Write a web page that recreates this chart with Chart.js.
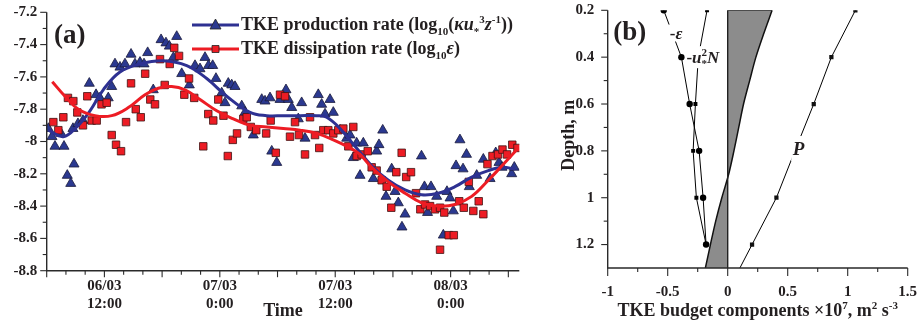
<!DOCTYPE html>
<html>
<head>
<meta charset="utf-8">
<script src="https://cdn.jsdelivr.net/npm/chart.js@4.4.1/dist/chart.umd.min.js"></script>
<style>
  body { margin: 0; background: #fff; }
  #wrap { position: relative; width: 919px; height: 322px; overflow: hidden; }
  #chart-a { position: absolute; left: 0; top: 0; }
  #chart-b { position: absolute; left: 540px; top: 0; }
</style>
</head>
<body>
<div id="wrap">
  <canvas id="chart-a" width="580" height="322"></canvas>
  <canvas id="chart-b" width="379" height="322"></canvas>
</div>
<script>
// ---- panel (a): time series, time in hours since 06/03 0:00 ----
const prodTime = [6.17, 6.55, 6.86, 7.49, 7.80, 8.14, 8.50, 8.73, 8.84, 9.25, 9.77, 10.43, 11.13, 11.54, 12.40,
  12.76, 13.10, 13.62, 14.14, 14.77, 15.18, 15.70, 16.12, 16.50, 17.08, 17.89, 18.40, 18.75, 19.17, 19.52,
  20.04, 20.83, 21.42, 21.94, 22.46, 22.82, 23.26, 23.60, 24.20, 24.54, 24.88, 25.24, 25.58, 26.28, 26.62,
  27.48, 28.36, 28.70, 29.22, 29.40, 29.92, 30.26, 30.88, 31.12, 31.48, 32.16, 32.51, 32.86, 34.24, 34.59,
  34.94, 35.46, 35.80, 36.50, 37.19, 37.54, 37.88, 38.23, 38.58, 38.92, 39.96, 40.31, 40.55, 40.94, 41.28,
  41.87, 42.22, 42.56, 42.94, 43.26, 44.97, 45.28, 45.60, 45.96, 46.55, 47.24, 47.62, 47.94, 48.28, 48.56,
  48.97, 49.29, 49.65, 49.94, 50.71, 51.40, 52.10, 52.69, 53.03, 53.34, 54.35, 54.62];
const prodRate = [-7.92, -7.97, -8.03, -7.95, -8.03, -8.21, -8.26, -7.92, -8.14, -7.89, -7.87, -7.64, -7.71, -7.73, -7.73,
  -7.66, -7.52, -7.54, -7.52, -7.46, -7.52, -7.51, -7.52, -7.45, -7.68, -7.37, -7.39, -7.41, -7.48, -7.35,
  -7.58, -7.65, -7.53, -7.55, -7.48, -7.53, -7.53, -7.61, -7.70, -7.76, -7.64, -7.65, -7.66, -7.78, -7.82,
  -7.96, -7.74, -7.75, -7.73, -8.06, -8.13, -7.74, -7.68, -7.74, -7.79, -7.86, -7.76, -7.98, -7.71, -7.77,
  -7.83, -7.74, -7.82, -7.93, -7.98, -7.96, -8.10, -8.01, -8.21, -8.01, -8.23, -8.06, -8.02, -7.93, -8.34,
  -8.17, -8.31, -8.38, -8.53, -8.45, -8.09, -8.28, -8.44, -8.28, -8.34, -8.58, -8.31, -8.35, -8.43, -8.15,
  -7.99, -8.17, -8.08, -8.28, -8.21, -8.11, -8.23, -8.07, -8.13, -8.16, -8.20, -8.16];

const dissTime = [6.69, 7.21, 7.73, 8.21, 8.77, 9.18, 9.77, 10.22, 10.68, 11.20, 11.70, 12.24, 12.76, 13.21, 13.73,
  14.25, 14.77, 15.26, 15.78, 16.24, 16.77, 17.26, 17.78, 18.27, 18.79, 19.26, 19.76, 20.31, 20.80, 21.34,
  22.28, 22.80, 23.32, 23.84, 24.38, 24.83, 25.35, 25.79, 26.44, 26.80, 27.22, 27.79, 28.82, 29.29, 29.82,
  30.26, 30.78, 31.30, 31.82, 32.23, 32.86, 33.38, 33.90, 34.34, 34.76, 35.28, 35.80, 36.32, 36.84, 37.36,
  37.88, 38.23, 38.75, 39.38, 39.79, 40.31, 40.83, 41.35, 41.83, 42.35, 42.91, 43.38, 43.88, 44.40, 44.85,
  45.34, 45.86, 46.38, 46.90, 46.90, 47.34, 47.80, 48.33, 48.89, 49.37, 49.89, 50.36, 50.92, 51.40, 51.83,
  52.35, 52.93, 53.39, 53.86, 54.41, 54.95];
const dissRate = [-7.88, -7.93, -7.85, -7.73, -7.75, -7.82, -7.90, -7.72, -7.87, -7.87, -7.77, -7.76, -7.96, -8.02, -8.06,
  -7.88, -7.64, -7.80, -7.85, -7.58, -7.74, -7.77, -7.49, -7.65, -7.52, -7.42, -7.47, -7.71, -7.61, -7.73,
  -8.03, -7.83, -7.87, -7.74, -7.84, -8.09, -7.99, -7.95, -7.86, -7.85, -7.91, -7.93, -7.95, -7.87, -8.07,
  -7.71, -7.72, -7.97, -7.88, -7.96, -8.08, -7.85, -7.96, -8.04, -7.93, -7.93, -7.95, -7.93, -7.92, -8.03,
  -7.91, -8.09, -8.08, -8.06, -8.16, -8.18, -8.24, -8.28, -8.41, -8.19, -8.07, -8.22, -8.19, -8.32, -8.42,
  -8.39, -8.40, -8.42, -8.41, -8.67, -8.44, -8.58, -8.58, -8.37, -8.41, -8.25, -8.43, -8.37, -8.45, -8.14,
  -8.09, -8.08, -8.05, -8.08, -8.02, -8.04];

// smoothed trends
const prodFitTime = [6.17, 7.73, 9.12, 10.50, 11.88, 13.62, 15.70, 18.12, 20.56, 22.64, 24.72, 27.14, 28.88, 30.60,
  32.34, 34.07, 35.11, 36.50, 38.06, 39.79, 41.52, 43.26, 44.99, 46.72, 48.45, 50.19, 51.92, 53.31, 54.69];
const prodFit = [-7.93, -7.97, -7.91, -7.81, -7.68, -7.57, -7.52, -7.50, -7.53, -7.61, -7.72, -7.82, -7.84, -7.84,
  -7.84, -7.84, -7.85, -7.92, -8.03, -8.15, -8.24, -8.30, -8.33, -8.32, -8.28, -8.22, -8.18, -8.16, -8.17];
const dissFitTime = [6.58, 7.90, 9.29, 11.02, 12.76, 14.49, 16.22, 17.60, 18.99, 20.38, 21.94, 23.68, 25.40, 27.14,
  28.88, 30.60, 32.34, 34.07, 35.80, 37.54, 38.58, 39.79, 41.52, 43.26, 44.99, 46.72, 48.45, 50.19, 51.92, 53.65, 55.04];
const dissFit = [-7.63, -7.72, -7.80, -7.84, -7.84, -7.79, -7.71, -7.67, -7.66, -7.68, -7.74, -7.81, -7.86, -7.90,
  -7.91, -7.92, -7.93, -7.95, -7.99, -8.04, -8.08, -8.16, -8.25, -8.32, -8.38, -8.40, -8.39, -8.34, -8.24, -8.13, -8.04];

const timeTicks = [12, 24, 36, 48];
const timeLabels = [['06/03', '12:00'], ['07/03', '0:00'], ['07/03', '12:00'], ['08/03', '0:00']];
const rateTicks = [-7.2, -7.4, -7.6, -7.8, -8, -8.2, -8.4, -8.6, -8.8];

// ---- panel (b): TKE budget profile ----
const depth = [0.2, 0.4, 0.6, 0.8, 1.0, 1.2];
const negEps = [-0.533, -0.386, -0.317, -0.238, -0.205, -0.18];
const negBuoy = [-0.172, -0.245, -0.269, -0.288, -0.261, -0.18];
const prodDepth = [0.2, 0.4, 0.6, 0.8, 1.0, 1.2, 1.4];
const prodP = [1.064, 0.864, 0.717, 0.56, 0.406, 0.203, 0.0];
const residDepth = [0.2, 0.3, 0.4, 0.5, 0.6, 0.7, 0.8, 0.9, 1.0, 1.1, 1.2, 1.3];
const resid = [0.37, 0.30, 0.235, 0.183, 0.132, 0.092, 0.052, 0.008, -0.049, -0.10, -0.144, -0.186];

const budgetXTicks = [-1, -0.5, 0, 0.5, 1, 1.5];
const depthTicks = [0.2, 0.4, 0.6, 0.8, 1.0, 1.2];

const SERIF = '"Liberation Serif", "Times New Roman", serif';
const INK = '#231f20';
const BLUE = '#2e3192';
const RED = '#ed1c24';

const fmt = v => String(Math.round(v * 10) / 10);
const pts = (xs, ys) => xs.map((x, i) => ({ x: x, y: ys[i] }));

// text with sub/superscripts, drawn piece by piece
function richFont(p, size) {
  const s = (p.sub || p.sup) ? Math.round(size * 0.62) : size;
  return (p.it ? 'italic ' : '') + 'bold ' + s + 'px ' + SERIF;
}
function richWidth(ctx, parts, size) {
  let w = 0;
  parts.forEach(p => {
    ctx.font = richFont(p, size);
    if (!p.keep) w += ctx.measureText(p.t).width;
  });
  return w;
}
function drawRich(ctx, parts, x, y, size, align) {
  let cx = align === 'center' ? x - richWidth(ctx, parts, size) / 2 : x;
  ctx.textAlign = 'left';
  ctx.textBaseline = 'alphabetic';
  parts.forEach(p => {
    ctx.font = richFont(p, size);
    const dy = p.sub ? size * 0.25 : p.sup ? -size * 0.4 : 0;
    ctx.fillText(p.t, cx, y + dy);
    if (!p.keep) cx += ctx.measureText(p.t).width;
  });
}

function line(ctx, x1, y1, x2, y2) {
  ctx.beginPath();
  ctx.moveTo(x1, y1);
  ctx.lineTo(x2, y2);
  ctx.stroke();
}

// left + bottom axis lines with outward major/minor ticks
function drawFrame(chart, xMajor, xMinor, yMajor, yMinor, xLen, yLen) {
  const { ctx, chartArea: a, scales } = chart;
  ctx.save();
  ctx.strokeStyle = '#2a2a2a';
  ctx.lineWidth = 1.4;
  ctx.beginPath();
  ctx.moveTo(a.left, a.top);
  ctx.lineTo(a.left, a.bottom);
  ctx.lineTo(a.right, a.bottom);
  ctx.stroke();
  ctx.lineWidth = 1.1;
  xMajor.forEach(v => { const p = scales.x.getPixelForValue(v); line(ctx, p, a.bottom, p, a.bottom + xLen); });
  xMinor.forEach(v => { const p = scales.x.getPixelForValue(v); line(ctx, p, a.bottom, p, a.bottom + 4); });
  yMajor.forEach(v => { const p = scales.y.getPixelForValue(v); line(ctx, a.left, p, a.left - yLen, p); });
  yMinor.forEach(v => { const p = scales.y.getPixelForValue(v); line(ctx, a.left, p, a.left - 4, p); });
  ctx.restore();
}

function steps(from, to, step) {
  const out = [];
  for (let v = from; v <= to + 1e-9; v += step) out.push(Math.round(v * 1000) / 1000);
  return out;
}

// keep the plot box where the layout padding puts it
function noScalePadding(s) {
  s.paddingTop = 0;
  s.paddingBottom = 0;
  s.paddingLeft = 0;
  s.paddingRight = 0;
}

const tickFont = { family: SERIF, size: 15, weight: 'bold', lineHeight: 1.17 };

// ---------------- panel (a) ----------------
const frameA = {
  id: 'frameA',
  afterDraw(chart) {
    const { ctx } = chart;
    const hrs = steps(6, 54, 2);
    drawFrame(chart,
      hrs.filter(h => h % 6 === 0), hrs.filter(h => h % 6 !== 0),
      rateTicks, steps(-8.7, -7.3, 0.2), 6.5, 6.5);

    ctx.save();
    ctx.fillStyle = INK;
    drawRich(ctx, [{ t: '(a)' }], 54, 43, 27);

    // legend
    const lx = 192, lw = 47;
    [[BLUE, 25, 'triangle'], [RED, 49, 'rect']].forEach(([c, y, shape]) => {
      ctx.strokeStyle = c;
      ctx.lineWidth = 3;
      line(ctx, lx, y, lx + lw, y);
      ctx.fillStyle = shape === 'triangle' ? '#2b3990' : RED;
      ctx.strokeStyle = '#222';
      ctx.lineWidth = 0.8;
      ctx.beginPath();
      if (shape === 'triangle') {
        ctx.moveTo(lx + 23.5, y - 6);
        ctx.lineTo(lx + 29, y + 4);
        ctx.lineTo(lx + 18, y + 4);
        ctx.closePath();
      } else {
        ctx.rect(lx + 20, y - 3.5, 7, 7);
      }
      ctx.fill();
      ctx.stroke();
    });
    ctx.fillStyle = INK;
    drawRich(ctx, [{ t: 'TKE production rate (log' }, { t: '10', sub: true }, { t: '(' }, { t: 'κu', it: true },
      { t: '*', sub: true }, { t: '3', sup: true }, { t: 'z', it: true }, { t: '-1', sup: true }, { t: '))' }],
      241, 30, 18);
    drawRich(ctx, [{ t: 'TKE dissipation rate (log' }, { t: '10', sub: true }, { t: 'ε', it: true }, { t: ')' }],
      241, 54, 18);

    drawRich(ctx, [{ t: 'Time' }], 283, 316, 18, 'center');
    ctx.restore();
  }
};

new Chart(document.getElementById('chart-a'), {
  type: 'scatter',
  data: {
    datasets: [
      {
        label: 'TKE production rate',
        data: pts(prodTime, prodRate),
        pointStyle: 'triangle',
        pointRadius: 5.8,
        backgroundColor: '#2b3990',
        borderColor: '#1b1b3b',
        borderWidth: 0.8,
        order: 3
      },
      {
        label: 'TKE dissipation rate',
        data: pts(dissTime, dissRate),
        pointStyle: 'rect',
        pointRadius: 5.3,
        backgroundColor: RED,
        borderColor: '#3f1414',
        borderWidth: 0.8,
        order: 2
      },
      {
        label: 'production trend',
        data: pts(prodFitTime, prodFit),
        showLine: true,
        pointRadius: 0,
        borderColor: BLUE,
        borderWidth: 3,
        tension: 0.4,
        order: 1
      },
      {
        label: 'dissipation trend',
        data: pts(dissFitTime, dissFit),
        showLine: true,
        pointRadius: 0,
        borderColor: RED,
        borderWidth: 3,
        tension: 0.4,
        order: 0
      }
    ]
  },
  options: {
    responsive: false,
    animation: false,
    events: [],
    layout: { padding: { top: 12.3, right: 60.7, bottom: 0, left: 0 } },
    plugins: { legend: { display: false }, tooltip: { enabled: false } },
    scales: {
      x: {
        type: 'linear',
        min: 6,
        max: 55.14,
        border: { display: false },
        grid: { display: false, drawTicks: false },
        afterBuildTicks: s => { s.ticks = timeTicks.map(v => ({ value: v })); },
        afterFit: s => { s.height = 51.3; noScalePadding(s); },
        ticks: {
          autoSkip: false,
          maxRotation: 0,
          padding: 7,
          color: INK,
          font: tickFont,
          callback: (v, i) => timeLabels[i]
        }
      },
      y: {
        min: -8.8,
        max: -7.2,
        border: { display: false },
        grid: { display: false, drawTicks: false },
        afterBuildTicks: s => { s.ticks = rateTicks.map(v => ({ value: v })); },
        afterFit: s => { s.width = 46.7; noScalePadding(s); },
        ticks: { autoSkip: false, padding: 9.4, color: INK, font: tickFont, callback: v => fmt(v) }
      }
    }
  },
  plugins: [frameA]
});

// ---------------- panel (b) ----------------
function boxedLabel(chart, parts, xv, yv, size, boxH, align) {
  const { ctx, scales } = chart;
  const px = scales.x.getPixelForValue(xv);
  const py = scales.y.getPixelForValue(yv);
  const w = richWidth(ctx, parts, size);
  const left = align === 'left' ? px : px - w / 2;
  ctx.fillStyle = '#fff';
  ctx.fillRect(left - 1.5, py - boxH / 2, w + 3, boxH);
  ctx.fillStyle = INK;
  drawRich(ctx, parts, left, py + size * 0.33, size);
}

const frameB = {
  id: 'frameB',
  afterDraw(chart) {
    const { ctx, chartArea: a } = chart;
    drawFrame(chart, budgetXTicks, steps(-0.75, 1.25, 0.5), depthTicks, steps(0.3, 1.1, 0.2), 8, 6.5);

    ctx.save();
    ctx.fillStyle = INK;
    drawRich(ctx, [{ t: '(b)' }], a.left + 5.5, 40, 27);

    boxedLabel(chart, [{ t: '-' }, { t: 'ε', it: true }], -0.43, 0.297, 17, 17);
    boxedLabel(chart, [{ t: '-' }, { t: 'u', it: true }, { t: '*', sub: true, keep: true }, { t: '2', sup: true },
      { t: 'N', it: true }], -0.344, 0.4, 17, 22, 'left');
    boxedLabel(chart, [{ t: 'P', it: true }], 0.59, 0.79, 19, 25);

    drawRich(ctx, [{ t: 'TKE budget components ×10' }, { t: '7', sup: true }, { t: ', m' }, { t: '2', sup: true },
      { t: ' s' }, { t: '-3', sup: true }], (a.left + a.right) / 2, 316, 18, 'center');

    ctx.translate(a.left - 34, (a.top + a.bottom) / 2 - 4);
    ctx.rotate(-Math.PI / 2);
    drawRich(ctx, [{ t: 'Depth, m' }], 0, 0, 18, 'center');
    ctx.restore();
  }
};

new Chart(document.getElementById('chart-b'), {
  type: 'line',
  data: {
    datasets: [
      {
        label: 'residual',
        data: pts(resid, residDepth),
        borderColor: '#111',
        borderWidth: 1.5,
        backgroundColor: '#8c8c8c',
        fill: 'origin',
        pointRadius: 0,
        tension: 0.3,
        order: 5
      },
      {
        label: 'zero',
        data: pts([0.37, 0, 0], [0.2, 0.2, 1.3]),
        borderColor: '#222',
        borderWidth: 1.4,
        fill: false,
        pointRadius: 0,
        order: 4
      },
      {
        label: '-eps',
        data: pts(negEps, depth),
        borderColor: '#000',
        borderWidth: 1,
        backgroundColor: '#000',
        pointStyle: 'circle',
        pointRadius: 3.2,
        pointBorderWidth: 0,
        fill: false,
        order: 2
      },
      {
        label: '-u*2N',
        data: pts(negBuoy, depth),
        borderColor: '#000',
        borderWidth: 1,
        backgroundColor: '#000',
        pointStyle: 'rect',
        pointRadius: 2.8,
        pointBorderWidth: 0,
        fill: false,
        order: 1
      },
      {
        label: 'P',
        data: pts(prodP, prodDepth),
        borderColor: '#000',
        borderWidth: 1,
        backgroundColor: '#111',
        pointStyle: 'rect',
        pointRadius: 3,
        pointBorderWidth: 0,
        fill: false,
        order: 0
      }
    ]
  },
  options: {
    responsive: false,
    animation: false,
    events: [],
    indexAxis: 'y',
    layout: { padding: { top: 10.3, right: 11.3, bottom: 0, left: 0 } },
    plugins: { legend: { display: false }, tooltip: { enabled: false } },
    scales: {
      x: {
        type: 'linear',
        min: -1,
        max: 1.5,
        border: { display: false },
        grid: { display: false, drawTicks: false },
        afterBuildTicks: s => { s.ticks = budgetXTicks.map(v => ({ value: v })); },
        afterFit: s => { s.height = 54; noScalePadding(s); },
        ticks: { autoSkip: false, maxRotation: 0, padding: 15, color: INK, font: tickFont, callback: v => fmt(v) }
      },
      y: {
        type: 'linear',
        min: 0.2,
        max: 1.3,
        reverse: true,
        border: { display: false },
        grid: { display: false, drawTicks: false },
        afterBuildTicks: s => { s.ticks = depthTicks.map(v => ({ value: v })); },
        afterFit: s => { s.width = 67.7; noScalePadding(s); },
        ticks: { autoSkip: false, padding: 13.4, color: INK, font: tickFont, callback: v => fmt(v) }
      }
    }
  },
  plugins: [frameB]
});
</script>
</body>
</html>
